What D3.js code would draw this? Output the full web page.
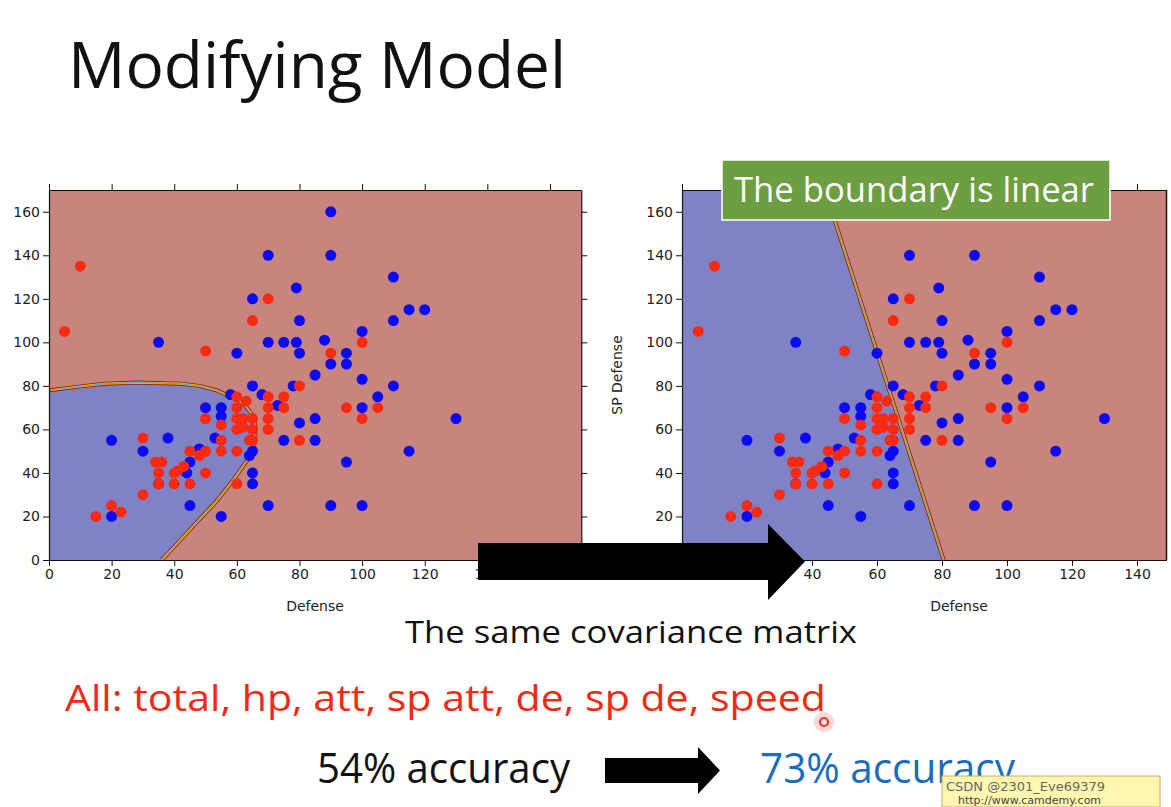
<!DOCTYPE html>
<html><head><meta charset="utf-8">
<script src="https://cdn.jsdelivr.net/npm/d3@7"></script>
<style>body{margin:0;background:#fff;} svg{display:block;}</style>
</head><body><svg id="c" width="1171" height="807"></svg>
<script>
// [Defense, SP Defense]
const bluePoints = [[90,160],[90,140],[70,140],[110,130],[79,125],[65,120],[115,115],[120,115],[80,110],[110,110],
  [100,105],[35,100],[70,100],[75,100],[79,100],[88,101],[60,95],[80,95],[95,95],[90,90],[95,90],[85,85],[100,83],
  [65,80],[78,80],[110,80],[58,76],[68,76],[105,75],[73,71],[50,70],[55,70],[100,70],[55,66],[85,65],[130,65],[80,63],
  [20,55],[38,56],[53,56],[75,55],[85,55],[30,50],[48,51],[65,50],[64,48],[115,50],[45,45],[95,45],[44,40],[65,40],
  [35,35],[65,35],[20,20],[45,25],[70,25],[90,25],[100,25],[55,20]];
const redPoints = [[10,135],[5,105],[70,120],[65,110],[100,100],[50,96],[90,95],[80,80],[60,75],[63,73],[70,75],[75,75],
  [60,70],[70,70],[75,70],[95,70],[105,70],[50,65],[60,65],[62,65],[65,65],[70,65],[100,65],[55,62],[60,60],[62,61],
  [65,60],[70,60],[30,56],[55,55],[64,55],[65,55],[80,55],[45,50],[50,50],[48,48],[55,50],[60,50],[34,45],[36,45],
  [43,43],[41,41],[40,40],[35,40],[50,40],[35,35],[40,35],[45,35],[60,35],[30,30],[20,25],[23,22],[15,20]];
// decision boundaries
const quadBoundary = [[0,78],[11.5,80],[18,81],[28,81.5],[42,81],[48,80],[53.5,78],[58,75],[62,72],[65,66.7],[66,61],
  [65.8,54.4],[64.7,48],[62.6,44.5],[59,37],[53.5,27],[47,17],[41,7.7],[36,0]];
const linearBoundary = [[44,170],[80.5,0]];
const xTicksLeft = [0,20,40,60,80,100,120,140,160];
const xTicksRight = [0,20,40,60,80,100,120,140];
const yTicks = [0,20,40,60,80,100,120,140,160];
const axisMax = 170;

const svg = d3.select("#c");
const pink = "#c8857e", lav = "#7f83c6";

function panel(opt){
  const g = svg.append("g");
  if (opt.clip){
    svg.append("clipPath").attr("id","clipR").append("rect").attr("x",0).attr("y",0).attr("width",opt.clip).attr("height",807);
    g.attr("clip-path","url(#clipR)");
  }
  const x = d3.scaleLinear([0,axisMax],[opt.x0,opt.x1]);
  const y = d3.scaleLinear([0,axisMax],[560,190]);
  g.append("rect").attr("x",x(0)).attr("y",y(axisMax)).attr("width",x(axisMax)-x(0)).attr("height",y(0)-y(axisMax)).attr("fill",pink);
  const ln = d3.line().x(d=>x(d[0])).y(d=>y(d[1]));
  g.append("path").attr("d", ln(opt.region)+"Z").attr("fill",lav);
  [["#9a1a00",4],["#f0b020",2.2],["#3fa8e0",0.9]].forEach(([c,w])=>{
    g.append("path").attr("d",ln(opt.boundary)).attr("fill","none").attr("stroke",c).attr("stroke-width",w);
  });
  g.selectAll("circle.b").data(bluePoints).join("circle").attr("cx",d=>x(d[0])).attr("cy",d=>y(d[1])).attr("r",5.5).attr("fill","#0a0af5");
  g.selectAll("circle.r").data(redPoints).join("circle").attr("cx",d=>x(d[0])).attr("cy",d=>y(d[1])).attr("r",5.5).attr("fill","#fb2a12");
  const style = a => { a.selectAll("text").attr("font-family","DejaVu Sans, sans-serif").attr("font-size",14).attr("fill","#222");
    a.selectAll("line").attr("stroke","#111"); a.select(".domain").attr("stroke","#111").attr("stroke-width",1.2); };
  g.append("g").attr("transform",`translate(0,560)`).call(d3.axisBottom(x).tickValues(opt.xt).tickSize(6).tickSizeOuter(0)).call(style);
  g.append("g").attr("transform",`translate(0,190)`).call(d3.axisTop(x).tickValues(opt.xt).tickSize(6).tickSizeOuter(0).tickFormat("")).call(style);
  g.append("g").attr("transform",`translate(${x(0)},0)`).call(d3.axisLeft(y).tickValues(yTicks).tickSize(6).tickSizeOuter(0)).call(style);
  g.append("g").attr("transform",`translate(${x(axisMax)},0)`).call(d3.axisRight(y).tickValues(yTicks).tickSize(6).tickSizeOuter(0).tickFormat("")).call(style);
  g.append("text").attr("x",opt.labelCx).attr("y",611).attr("text-anchor","middle")
    .attr("font-family","DejaVu Sans, sans-serif").attr("font-size",14).attr("fill","#222").text("Defense");
  return {x,y,g};
}

panel({x0:49, x1:49+axisMax*3.131, xt:xTicksLeft, labelCx:315,
  region:[[0,0],...quadBoundary], boundary:quadBoundary});
panel({x0:682, x1:682+axisMax*3.25, xt:xTicksRight, labelCx:959, clip:1167,
  region:[[0,0],[0,axisMax],...linearBoundary], boundary:linearBoundary});
svg.append("line").attr("x1",1166.5).attr("x2",1166.5).attr("y1",190).attr("y2",560).attr("stroke","#111").attr("stroke-width",1.5);
svg.append("text").attr("transform","translate(622,375) rotate(-90)").attr("text-anchor","middle")
  .attr("font-family","DejaVu Sans, sans-serif").attr("font-size",14).attr("fill","#222").text("SP Defense");

// slide texts
const F = "'Open Sans', sans-serif";
function txt(s,x,y,size,len,fill){ svg.append("text").attr("x",x).attr("y",y).attr("font-family",F).attr("font-size",size)
  .attr("fill",fill).attr("textLength",len).attr("lengthAdjust","spacingAndGlyphs").text(s); }
txt("Modifying Model",68,88,64,498,"#111");

// green label
svg.append("rect").attr("x",722).attr("y",160).attr("width",388).attr("height",60).attr("fill","#6d9e41").attr("stroke","#fff").attr("stroke-width",1.5);
txt("The boundary is linear",734,202,35,360,"#fff");

// big arrows
function arrow(x0,x1,hx,bt,bb,ht,hb){
  const ym=(bt+bb)/2;
  svg.append("path").attr("d",`M${x0},${bt}L${hx},${bt}L${hx},${ht}L${x1},${ym}L${hx},${hb}L${hx},${bb}L${x0},${bb}Z`).attr("fill","#000");
}
arrow(478,805,768,543,580,524,600);
txt("The same covariance matrix",405,643,31,452,"#111");
txt("All: total, hp, att, sp att, de, sp de, speed",65,711,37,761,"#f02a12");
txt("54% accuracy",317,783,42,253,"#111");
arrow(605,720,698,758,783,747,794);
txt("73% accuracy",760,783,42,255,"#1a6cbf");

// cursor mark
svg.append("circle").attr("cx",824).attr("cy",722).attr("r",10).attr("fill","rgba(255,140,140,0.35)");
svg.append("circle").attr("cx",824).attr("cy",722).attr("r",4).attr("fill","#ffe0e0").attr("stroke","#e03a2a").attr("stroke-width",2.2);

// watermark box
svg.append("rect").attr("x",942).attr("y",776).attr("width",218).attr("height",31).attr("fill","#fdf7b0").attr("stroke","#c9b25a");
svg.append("text").attr("x",946).attr("y",791).attr("font-family","DejaVu Sans, sans-serif").attr("font-size",13).attr("fill","#666").text("CSDN @2301_Eve69379");
svg.append("text").attr("x",958).attr("y",804).attr("font-family","DejaVu Sans, sans-serif").attr("font-size",11).attr("fill","#444").text("http://www.camdemy.com");
</script></body></html>
